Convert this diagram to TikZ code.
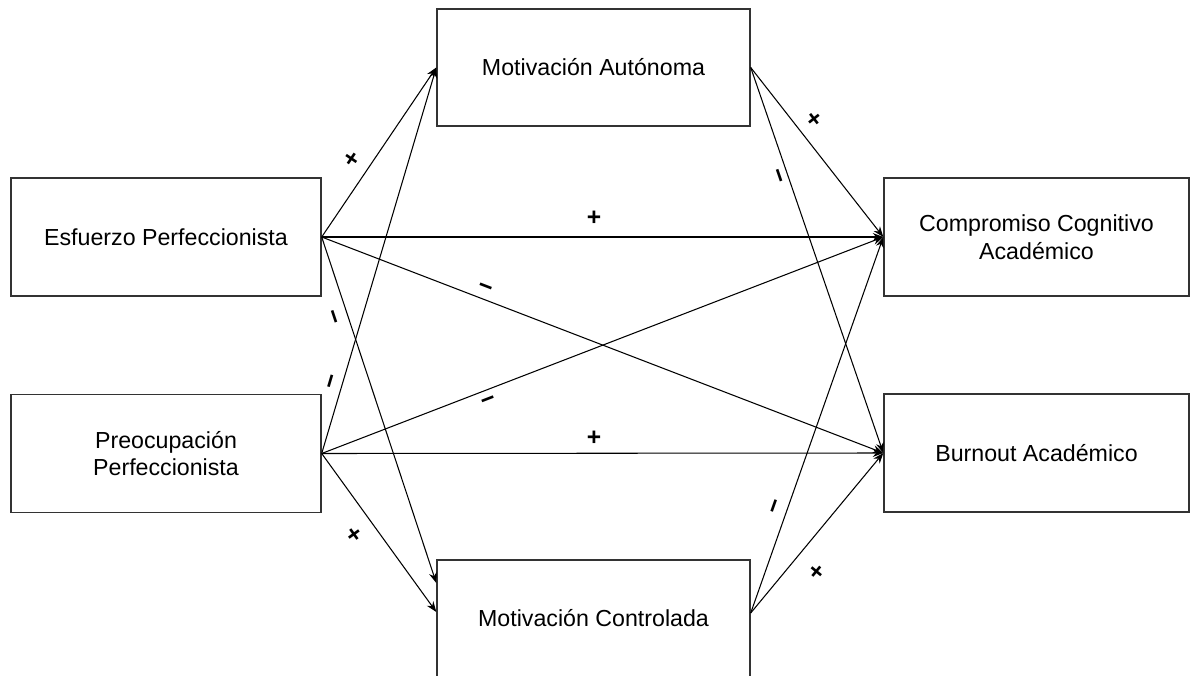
\documentclass[tikz,border=0pt]{standalone}
\usepackage{fontspec}
\setmainfont{Liberation Sans}
\usepackage{tikz}
\usetikzlibrary{arrows.meta, positioning}
\definecolor{boxgray}{HTML}{333333}

\begin{document}
\begin{tikzpicture}[
  varbox/.style={rectangle, minimum width=6.2cm, minimum height=2.36cm, draw=boxgray, line width=0.8pt, font=\fontsize{13.2}{15.8}\selectfont, align=center},
  link/.style={-{Stealth[length=6pt, width=4.5pt]}, line width=0.6pt},
  sgn/.style={sloped, inner sep=0pt, text height=0.6em, text depth=0pt, font=\fontsize{14}{16}\selectfont\bfseries}
]
\useasboundingbox (0,0) rectangle (23.82,13.5);

% variables
\node[varbox] (esf) at (3.32,8.76) {Esfuerzo Perfeccionista};
\node[varbox] (preo) at (3.32,4.43) {Preocupación\\Perfeccionista};
\node[varbox, minimum width=6.26cm, minimum height=2.34cm] (autonoma) at (11.87,12.15) {Motivación Autónoma};
\node[varbox, minimum width=6.26cm, minimum height=2.34cm] (controlada) at (11.87,1.13) {Motivación Controlada};
\node[varbox, minimum width=6.1cm] (compromiso) at (20.73,8.76) {Compromiso Cognitivo\\Académico};
\node[varbox, minimum width=6.1cm] (burnout) at (20.73,4.44) {Burnout Académico};

% paths
\draw[link] (esf.east) -- (autonoma.west) node[sgn, pos=0.4, above=5.6pt] {+};
\draw[link] (esf.east) -- (compromiso.west) node[sgn, pos=0.485, above=6.2pt] {+};
\draw[link] (esf.east) -- (burnout.west) node[sgn, pos=0.284, above=2.2pt] {−};
\draw[link] (esf.east) -- ([yshift=0.71cm]controlada.west) node[sgn, pos=0.218, below=5.6pt] {−};
\draw[link] (preo.east) -- (autonoma.west) node[sgn, pos=0.179, above=1.8pt] {−};
\draw[link] (preo.east) -- (compromiso.west) node[sgn, pos=0.29, below=3.4pt] {−};
\draw[link] (preo.east) -- (burnout.west) node[sgn, pos=0.485, above=4.2pt] {+};
\draw[link] (preo.east) -- ([yshift=0.13cm]controlada.west) node[sgn, pos=0.434, below=10.6pt] {+};
\draw[link] (autonoma.east) -- (compromiso.west) node[sgn, pos=0.372, above=5.4pt] {+};
\draw[link] (autonoma.east) -- (burnout.west) node[sgn, pos=0.273, below=2.8pt] {−};
\draw[link] ([yshift=0.11cm]controlada.east) -- (compromiso.west) node[sgn, pos=0.272, above=2.8pt] {−};
\draw[link] ([yshift=0.11cm]controlada.east) -- (burnout.west) node[sgn, pos=0.353, below=12.3pt] {+};
\end{tikzpicture}
\end{document}
